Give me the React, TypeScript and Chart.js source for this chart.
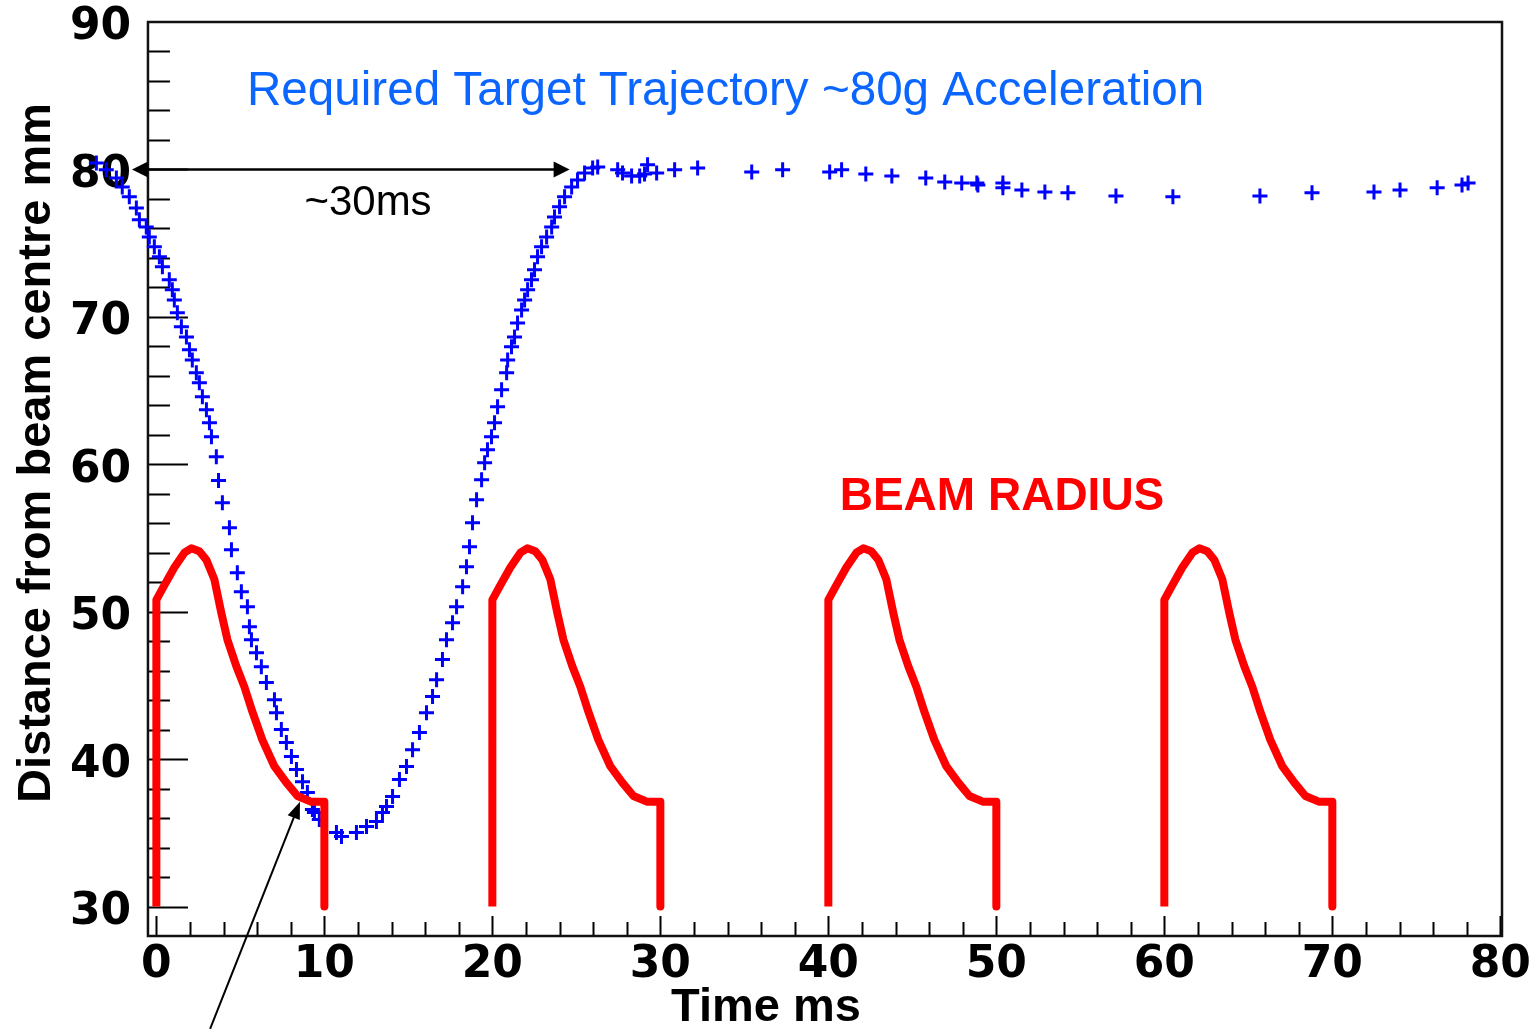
import React, { useEffect, useRef } from 'react';
import { Chart, registerables } from 'chart.js';

Chart.register(...registerables);

// ---- Beam radius profile (one pulse, repeated every 20 ms) ----
const beamProfileT = [0, 0, 0.48, 1.07, 1.67, 2.08, 2.56, 2.98, 3.45, 3.87, 4.23, 4.76, 5.24, 5.72, 6.31, 7.03, 7.74, 8.4, 9.23, 10.0, 10.0];
const beamProfileR = [30, 50.8, 51.8, 53.0, 54.0, 54.3, 54.1, 53.5, 52.2, 49.9, 48.1, 46.3, 44.9, 43.2, 41.3, 39.5, 38.4, 37.5, 37.1, 37.1, 30];
const beamCycleStarts = [0, 20, 40, 60];

// ---- Target trajectory (time ms, distance mm) ----
const trajT = [
  -3.57, -2.98, -2.38, -2.03, -1.61, -1.19, -1.01, -0.6, -0.42, -0.12,
  0.18, 0.36, 0.77, 0.95, 1.07, 1.25, 1.49, 1.79, 1.97, 2.14,
  2.38, 2.56, 2.74, 2.98, 3.16, 3.28, 3.57, 3.7, 3.93, 4.35,
  4.47, 4.82, 5.06, 5.42, 5.54, 5.66, 5.96, 6.25, 6.55, 7.03,
  7.15, 7.44, 7.74, 8.04, 8.34, 8.7, 8.99, 9.29, 9.41, 9.7,
  10.72, 11.02, 11.91, 12.51, 13.1, 13.46, 13.7, 14.06, 14.47, 14.89,
  15.25, 15.66, 16.08, 16.44, 16.68, 17.03, 17.27, 17.63, 17.87, 18.23,
  18.46, 18.64, 18.82, 19.06, 19.36, 19.54, 19.71, 19.95, 20.13, 20.31,
  20.55, 20.85, 20.91, 21.14, 21.32, 21.5, 21.74, 21.92, 22.1, 22.33,
  22.51, 22.69, 22.93, 23.23, 23.53, 23.7, 24.0, 24.3, 24.72, 25.07,
  25.49, 25.97, 26.27,
  27.46, 27.75, 28.29, 28.77, 29.06, 29.24, 29.78, 30.85, 32.22, 35.44,
  37.28, 40.08, 40.79, 42.23, 43.78, 45.8, 46.93, 47.94, 48.84, 48.9,
  50.39, 50.39, 51.52, 52.89, 54.26, 57.12, 60.51, 65.69, 68.79, 72.48,
  74.03, 76.24, 77.72, 78.08,
];
const trajD = [
  80.44, 79.97, 79.42, 78.81, 78.14, 77.39, 76.58, 76.1, 75.42, 74.75,
  74.07, 73.39, 72.51, 71.83, 71.15, 70.27, 69.32, 68.64, 67.76, 67.08,
  66.2, 65.53, 64.58, 63.69, 62.81, 61.86, 60.51, 58.9, 57.39, 55.69,
  54.2, 52.64, 51.36, 50.34, 48.98, 48.1, 47.22, 46.27, 45.19, 44.03,
  43.15, 42.0, 41.12, 40.17, 39.29, 38.47, 37.73, 36.58, 36.37, 35.9,
  35.02, 34.75, 35.02, 35.42, 35.76, 36.37, 36.78, 37.46, 38.61, 39.49,
  40.64, 41.8, 43.15, 44.24, 45.39, 46.75, 48.1, 49.25, 50.34, 51.69,
  53.05, 54.41, 56.03, 57.59, 58.95, 60.1, 60.98, 61.86, 62.81, 63.9,
  65.05, 66.2, 67.08, 67.97, 68.64, 69.59, 70.47, 71.15, 71.83, 72.51,
  73.19, 74.07, 74.75, 75.42, 76.1, 76.78, 77.46, 78.14, 78.81, 79.29,
  79.76, 80.1, 80.17,
  79.97, 79.76, 79.56, 79.56, 79.69, 80.31, 79.76, 79.97, 80.1, 79.83,
  79.97, 79.83, 79.97, 79.69, 79.56, 79.42, 79.15, 79.08, 79.08, 78.95,
  79.08, 78.75, 78.61, 78.47, 78.41, 78.2, 78.14, 78.2, 78.41, 78.47,
  78.61, 78.75, 78.95, 79.08,
];

// ---- Axis ranges / ticks ----
// the scale starts left of the drawn frame so that early trajectory points
// (before t = 0) can be shown outside the frame, as in the original plot
const xScaleRange = [-3.95, 80.1];
const xFrameMin = -0.5;
const yRange = [28, 90];
const xTickLabels = [0, 10, 20, 30, 40, 50, 60, 70, 80];
const yTickLabels = [30, 40, 50, 60, 70, 80, 90];
const majorStep = 10;
const minorStep = 2;

// ---- Annotations (data coordinates) ----
const spanArrow = { x0: -1.45, x1: 24.6, y: 80 };
const pointerArrow = { x0: 3.2, y0: 21.7, x1: 8.55, y1: 37.1 };
const headingText = 'Required Target Trajectory ~80g Acceleration';
const spanText = '~30ms';
const beamText = 'BEAM RADIUS';
const xTitle = 'Time ms';
const yTitle = 'Distance from beam centre mm';

const SANS = '"Liberation Sans", Arial, Helvetica, sans-serif';

function arrowHead(ctx: CanvasRenderingContext2D, tx: number, ty: number, fx: number, fy: number, len: number, half: number) {
  const ang = Math.atan2(ty - fy, tx - fx);
  ctx.beginPath();
  ctx.moveTo(tx, ty);
  ctx.lineTo(tx - len * Math.cos(ang) + half * Math.sin(ang), ty - len * Math.sin(ang) - half * Math.cos(ang));
  ctx.lineTo(tx - len * Math.cos(ang) - half * Math.sin(ang), ty - len * Math.sin(ang) + half * Math.cos(ang));
  ctx.closePath();
  ctx.fill();
}

const rootDecor = {
  id: 'rootDecor',
  beforeDatasetsDraw(chart: any) {
    const { ctx, chartArea: a, scales } = chart;
    const xs = scales.x;
    const ys = scales.y;
    const left = xs.getPixelForValue(xFrameMin);
    ctx.save();
    ctx.strokeStyle = '#000';
    ctx.lineWidth = 2;
    ctx.beginPath();
    for (let v = xTickLabels[0]; v <= xTickLabels[xTickLabels.length - 1] + 1e-6; v += minorStep) {
      const p = Math.round(xs.getPixelForValue(v)) + 0.5;
      const len = Math.abs(v % majorStep) < 1e-6 ? 20 : 14;
      ctx.moveTo(p, a.bottom);
      ctx.lineTo(p, a.bottom - len);
    }
    for (let v = yTickLabels[0]; v < yRange[1] - 1e-6; v += minorStep) {
      const p = Math.round(ys.getPixelForValue(v)) + 0.5;
      const len = Math.abs(v % majorStep) < 1e-6 ? 40 : 22;
      ctx.moveTo(left, p);
      ctx.lineTo(left + len, p);
    }
    ctx.stroke();
    ctx.lineWidth = 2.5;
    ctx.strokeStyle = '#111';
    ctx.strokeRect(left, a.top, a.right - left, a.bottom - a.top);
    ctx.restore();
  },
  afterDraw(chart: any) {
    const { ctx, scales } = chart;
    const xs = scales.x;
    const ys = scales.y;
    ctx.save();
    // heading
    ctx.fillStyle = '#0a66ff';
    ctx.font = `47.6px ${SANS}`;
    ctx.textAlign = 'left';
    ctx.textBaseline = 'alphabetic';
    ctx.fillText(headingText, 247, 105);
    // ~30ms
    ctx.fillStyle = '#000';
    ctx.font = `42px ${SANS}`;
    ctx.textAlign = 'center';
    ctx.fillText(spanText, 368, 215);
    // BEAM RADIUS
    ctx.fillStyle = '#ff0000';
    ctx.font = `bold 46px ${SANS}`;
    ctx.fillText(beamText, 1002, 510);
    // axis titles
    ctx.fillStyle = '#000';
    ctx.font = `bold 47px ${SANS}`;
    ctx.fillText(xTitle, 766, 1021);
    ctx.save();
    ctx.translate(50, 453);
    ctx.rotate(-Math.PI / 2);
    ctx.fillText(yTitle, 0, 0);
    ctx.restore();
    // span arrow
    const sx0 = xs.getPixelForValue(spanArrow.x0);
    const sx1 = xs.getPixelForValue(spanArrow.x1);
    const sy = ys.getPixelForValue(spanArrow.y);
    ctx.strokeStyle = '#000';
    ctx.fillStyle = '#000';
    ctx.lineWidth = 2.5;
    ctx.beginPath();
    ctx.moveTo(sx0 + 10, sy);
    ctx.lineTo(sx1 - 10, sy);
    ctx.stroke();
    arrowHead(ctx, sx0, sy, sx1, sy, 16, 8);
    arrowHead(ctx, sx1, sy, sx0, sy, 16, 8);
    // pointer arrow
    const px0 = xs.getPixelForValue(pointerArrow.x0);
    const py0 = ys.getPixelForValue(pointerArrow.y0);
    const px1 = xs.getPixelForValue(pointerArrow.x1);
    const py1 = ys.getPixelForValue(pointerArrow.y1);
    const ang = Math.atan2(py1 - py0, px1 - px0);
    ctx.lineWidth = 2;
    ctx.beginPath();
    ctx.moveTo(px0, py0);
    ctx.lineTo(px1 - 10 * Math.cos(ang), py1 - 10 * Math.sin(ang));
    ctx.stroke();
    arrowHead(ctx, px1, py1, px0, py0, 17, 6.5);
    ctx.restore();
  },
};

export default function App() {
  const ref = useRef<HTMLCanvasElement | null>(null);
  useEffect(() => {
    document.body.style.margin = '0';
    const canvas = ref.current;
    if (!canvas) return;
    const beamSets = beamCycleStarts.map((t0) => ({
      label: 'Beam radius',
      data: beamProfileT.map((t, i) => ({ x: t0 + t, y: beamProfileR[i] })),
      showLine: true,
      borderColor: '#ff0000',
      backgroundColor: '#ff0000',
      borderWidth: 8,
      pointRadius: 0,
      tension: 0,
      borderJoinStyle: 'round' as const,
      borderCapStyle: 'butt' as const,
    }));
    const trajSet = {
      label: 'Trajectory',
      data: trajT.map((t, i) => ({ x: t, y: trajD[i] })),
      showLine: false,
      pointStyle: 'cross' as const,
      pointRadius: 7.5,
      pointBorderWidth: 3,
      pointBorderColor: '#0000ff',
      pointBackgroundColor: '#0000ff',
      borderColor: '#0000ff',
      clip: false as const,
    };
    const xTickFont = { family: '"DejaVu Sans", sans-serif', weight: 'bold' as const, size: 44, lineHeight: 1 };
    const yTickFont = { family: '"DejaVu Sans", sans-serif', weight: 'bold' as const, size: 44, lineHeight: 0.4 };
    const chart = new Chart(canvas, {
      type: 'scatter',
      data: { datasets: [...beamSets, trajSet] as any },
      options: {
        animation: false,
        responsive: false,
        events: [],
        layout: { padding: { top: 22, right: 32, left: 0, bottom: 0 } },
        plugins: { legend: { display: false }, tooltip: { enabled: false }, title: { display: false } },
        scales: {
          x: {
            type: 'linear',
            min: xScaleRange[0],
            max: xScaleRange[1],
            afterBuildTicks: (s: any) => { s.ticks = xTickLabels.map((v) => ({ value: v })); },
            afterFit: (s: any) => { s.height = 93; },
            grid: { display: false },
            border: { display: false },
            ticks: {
              autoSkip: false,
              maxRotation: 0,
              minRotation: 0,
              padding: 0,
              color: '#000',
              font: xTickFont,
            },
          },
          y: {
            type: 'linear',
            min: yRange[0],
            max: yRange[1],
            afterBuildTicks: (s: any) => { s.ticks = yTickLabels.map((v) => ({ value: v })); },
            afterFit: (s: any) => { s.width = 90; },
            grid: { display: false },
            border: { display: false },
            ticks: {
              autoSkip: false,
              mirror: true,
              padding: -20,
              labelOffset: 6,
              color: '#000',
              font: yTickFont,
            },
          },
        },
      },
      plugins: [rootDecor],
    });
    return () => chart.destroy();
  }, []);
  return (
    <div style={{ position: 'absolute', left: 0, top: 0, width: 1534, height: 1029, background: '#fff' }}>
      <canvas ref={ref} width={1534} height={1029} style={{ width: 1534, height: 1029, display: 'block' }} />
    </div>
  );
}
